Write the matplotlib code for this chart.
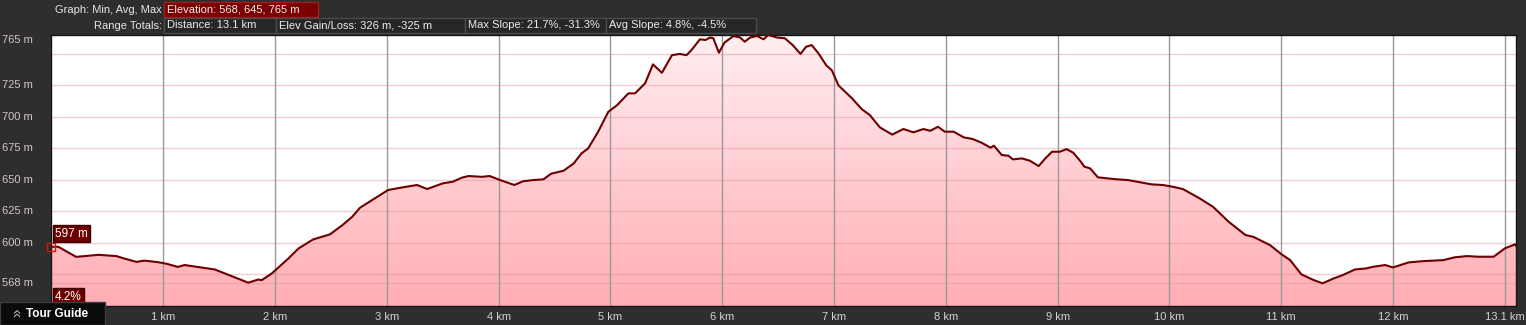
import matplotlib
matplotlib.use("Agg")
import matplotlib.pyplot as plt
import numpy as np
from matplotlib.patches import Polygon, Rectangle
from matplotlib.transforms import blended_transform_factory
from matplotlib.colors import to_rgb

# elevation profile
dist_km = [0.00, 0.06, 0.12, 0.22, 0.30, 0.42, 0.58, 0.65, 0.76, 0.83, 0.95, 1.03, 1.13, 1.19,
           1.34, 1.46, 1.64, 1.76, 1.85, 1.88, 1.97, 2.12, 2.21, 2.34, 2.49, 2.60, 2.69, 2.76,
           2.83, 2.94, 3.01, 3.12, 3.27, 3.36, 3.50, 3.59, 3.67, 3.73, 3.85, 3.92, 4.01, 4.14,
           4.22, 4.32, 4.40, 4.47, 4.58, 4.67, 4.74, 4.80, 4.89, 4.98, 5.06, 5.16, 5.22, 5.31,
           5.38, 5.46, 5.55, 5.62, 5.68, 5.73, 5.80, 5.85, 5.89, 5.92, 5.97, 6.02, 6.10, 6.16,
           6.20, 6.25, 6.31, 6.37, 6.41, 6.49, 6.56, 6.63, 6.70, 6.75, 6.80, 6.86, 6.93, 6.98,
           7.04, 7.16, 7.25, 7.32, 7.41, 7.52, 7.62, 7.71, 7.80, 7.86, 7.93, 7.99, 8.07, 8.16,
           8.24, 8.32, 8.40, 8.43, 8.50, 8.56, 8.60, 8.68, 8.75, 8.83, 8.89, 8.95, 9.02, 9.08,
           9.14, 9.20, 9.24, 9.29, 9.36, 9.44, 9.53, 9.63, 9.74, 9.84, 9.94, 10.03, 10.12, 10.20,
           10.27, 10.39, 10.53, 10.68, 10.75, 10.90, 11.00, 11.08, 11.18, 11.29, 11.37, 11.47,
           11.55, 11.66, 11.76, 11.82, 11.93, 12.00, 12.14, 12.27, 12.45, 12.55, 12.66, 12.76,
           12.90, 13.00, 13.09, 13.10]
elev_m = [597.0, 597.0, 594.0, 589.0, 589.6, 590.6, 589.6, 587.7, 585.0, 586.0, 584.8, 583.5, 581.0, 582.5,
          580.6, 579.0, 572.7, 568.5, 571.0, 570.5, 575.8, 587.8, 595.7, 602.8, 606.8, 614.0, 620.8, 628.0,
          631.9, 638.0, 642.0, 643.8, 646.0, 642.8, 647.3, 648.6, 651.8, 653.1, 652.5, 653.1, 650.0, 646.0,
          649.0, 650.0, 650.5, 655.0, 657.3, 663.0, 671.0, 675.0, 688.3, 704.0, 709.4, 718.7, 718.7, 726.7,
          741.7, 735.0, 749.0, 750.0, 749.0, 753.6, 761.6, 761.0, 763.0, 762.4, 751.0, 759.0, 764.2, 763.0,
          759.7, 763.0, 764.2, 761.6, 765.0, 763.0, 762.4, 757.0, 750.0, 755.7, 757.0, 750.5, 741.0, 737.0,
          725.0, 714.8, 706.0, 701.5, 691.7, 686.0, 690.4, 687.8, 690.4, 689.0, 692.2, 688.3, 688.3, 683.8,
          682.5, 679.5, 675.6, 677.2, 669.8, 669.2, 666.3, 667.1, 665.3, 661.0, 667.1, 672.4, 672.4, 674.5,
          671.6, 665.3, 660.5, 659.2, 652.1, 651.3, 650.5, 649.9, 648.1, 646.5, 646.0, 644.6, 642.8, 638.8,
          635.4, 628.7, 616.8, 606.3, 604.9, 598.3, 591.2, 586.4, 575.1, 570.6, 568.0, 571.9,
          574.5, 579.0, 579.8, 581.1, 582.5, 580.6, 584.6, 585.6, 586.4, 588.6, 589.6, 589.1,
          589.1, 595.7, 598.9, 597.8]

x_ticks = [1, 2, 3, 4, 5, 6, 7, 8, 9, 10, 11, 12, 13]
x_labels = ["1 km", "2 km", "3 km", "4 km", "5 km", "6 km", "7 km", "8 km", "9 km",
            "10 km", "11 km", "12 km", "13.1 km"]
y_grid = [568, 575, 600, 625, 650, 675, 700, 725, 750]
y_labels = [765, 725, 700, 675, 650, 625, 600, 568]

header_row1 = ["Elevation: 568, 645, 765 m"]
header_row2 = ["Distance: 13.1 km", "Elev Gain/Loss: 326 m, -325 m",
               "Max Slope: 21.7%, -31.3%", "Avg Slope: 4.8%, -4.5%"]
start_label = "597 m"
slope_label = "4.2%"

W, H = 1526, 325
FONT = "Liberation Sans"
BG = "#2e2e2e"

fig = plt.figure(figsize=(W / 100, H / 100), dpi=100, facecolor=BG)


def fx(px):
    return px / W


def fy(py):
    return 1 - py / H


x0, x1, ytop, ybot = 51.5, 1516, 35, 306
ax = fig.add_axes([fx(x0), fy(ybot), fx(x1 - x0), (ybot - ytop) / H])
ax.set_facecolor("white")
ymin, ymax = 550, 765
ax.set_xlim(0, 13.1)
ax.set_ylim(ymin, ymax)

# gradient fill under the profile
top_c = np.array(to_rgb("#ffeef0"))
bot_c = np.array(to_rgb("#ffaeb4"))
t = np.linspace(0, 1, 256)[:, None]
grad = (top_c * (1 - t) + bot_c * t)[:, None, :]
img = ax.imshow(grad, extent=[0, 13.1, ymin, ymax], aspect="auto", origin="upper", zorder=1)
verts = list(zip(dist_km, elev_m)) + [(dist_km[-1], ymin), (dist_km[0], ymin)]
poly = Polygon(verts, closed=True, facecolor="none", edgecolor="none")
ax.add_patch(poly)
img.set_clip_path(poly)

for v in y_grid:
    ax.axhline(v, color="#e0909a", alpha=0.45, lw=1, zorder=2)
for v in x_ticks:
    ax.axvline(v, color="#999999", lw=1, zorder=2)

ax.plot(dist_km, elev_m, color="#6e0000", lw=1.5, zorder=3)
ax.plot([dist_km[0]], [elev_m[0]], marker="s", ms=6, mfc="none", mec="#e01010", mew=1,
        zorder=4, clip_on=False)

for s in ax.spines.values():
    s.set_color("#151515")
    s.set_linewidth(1)

ax.set_xticks(x_ticks)
ax.set_xticklabels(x_labels, fontfamily=FONT, fontsize=8, color="#d2d2d2")
ax.set_yticks([])
ax.tick_params(axis="x", length=0, pad=4)

# y labels drawn at the left edge of the figure
tr = blended_transform_factory(fig.transFigure, ax.transData)
for v in y_labels:
    ax.text(fx(2), v, f"{v} m", transform=tr, ha="left",
            va="top" if v == ymax else "center",
            fontfamily=FONT, fontsize=8, color="#d8c4c4", clip_on=False)

# labels inside the plot
ax.annotate(start_label, xy=(0, elev_m[0]), xytext=(2.5, 5), textcoords="offset points",
            ha="left", va="bottom", fontfamily=FONT, fontsize=8.5, color="white", zorder=5,
            bbox=dict(boxstyle="square,pad=0.2", facecolor="#6e0000", edgecolor="#3a0000"))
ax.text(0.0025, 0.012, slope_label, transform=ax.transAxes, ha="left", va="bottom",
        fontfamily=FONT, fontsize=8.5, color="white", zorder=5,
        bbox=dict(boxstyle="square,pad=0.2", facecolor="#6e0000", edgecolor="#3a0000"))

# header
fig.text(fx(162), fy(10), "Graph: Min, Avg, Max", ha="right", va="center",
         fontfamily=FONT, fontsize=8, color="#e6e6e6")
fig.text(fx(162), fy(26), "Range Totals:", ha="right", va="center",
         fontfamily=FONT, fontsize=8, color="#e6e6e6")

row1_edges = [164, 318]
row2_edges = [164, 276, 465, 606, 756]


def header_box(left, right, top, bottom, label, fc, ec):
    fig.patches.append(Rectangle((fx(left), fy(bottom)), fx(right - left), (bottom - top) / H,
                                 transform=fig.transFigure, facecolor=fc, edgecolor=ec, lw=1))
    fig.text(fx(left + 3), fy((top + bottom) / 2), label, ha="left", va="center",
             fontfamily=FONT, fontsize=8, color="#ececec")


for i, lab in enumerate(header_row1):
    header_box(row1_edges[i], row1_edges[i + 1], 2, 17, lab, "#7c0000", "#a02020")
for i, lab in enumerate(header_row2):
    header_box(row2_edges[i], row2_edges[i + 1], 18, 33, lab, "#262626", "#4a4a4a")

# tour guide tab
fig.patches.append(Rectangle((0, 0), fx(105), (325 - 302) / H, transform=fig.transFigure,
                             facecolor="#0b0b0b", edgecolor="#3c3c3c", lw=1))
fig.text(fx(17), fy(313), "\u00bb", rotation=90, ha="center", va="center",
         fontfamily=FONT, fontsize=11, color="#bcbcbc")
fig.text(fx(26), fy(314), "Tour Guide", ha="left", va="center",
         fontfamily=FONT, fontsize=8.5, fontweight="bold", color="white")

fig.savefig("out.png", dpi=100, facecolor=BG)
